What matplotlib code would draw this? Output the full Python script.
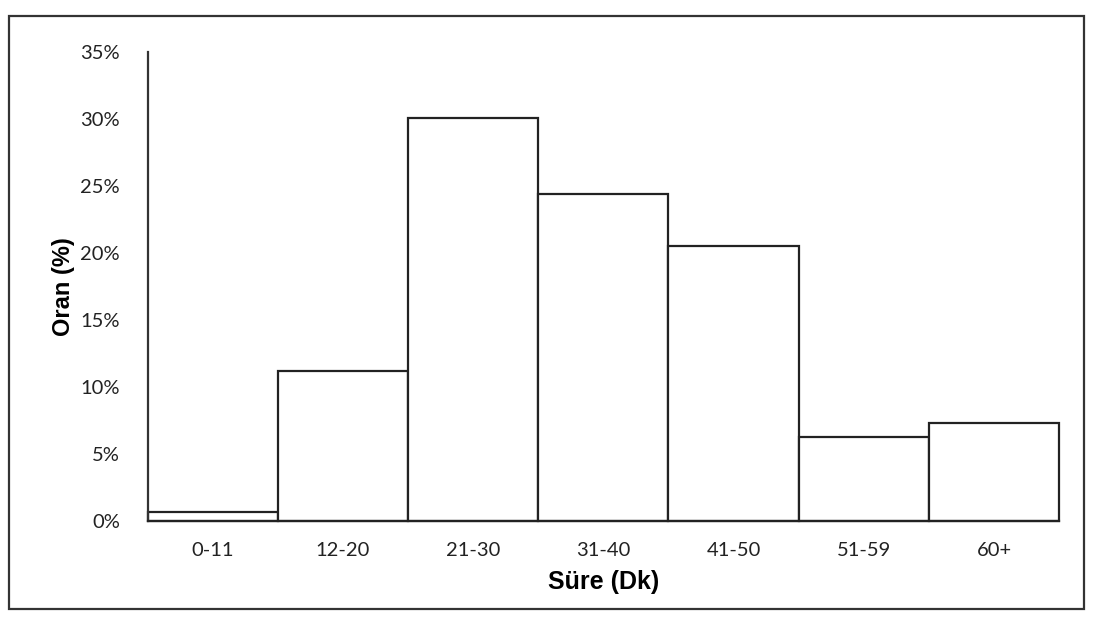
import numpy as np
import matplotlib.pyplot as plt
from matplotlib.patches import Rectangle

# süre aralıkları ve oranlar (%)
categories = ["0-11", "12-20", "21-30", "31-40", "41-50", "51-59", "60+"]
oran = [0.7, 11.2, 30.1, 24.4, 20.5, 6.3, 7.3]
yticks = [0, 5, 10, 15, 20, 25, 30, 35]

plt.rcParams["font.family"] = ["Lato", "DejaVu Sans"]

fig = plt.figure(figsize=(10.93, 6.34), dpi=100)
ax = fig.add_axes([0.135, 0.178, 0.834, 0.74])

x = np.arange(len(categories))
bars = ax.bar(x, oran, width=1.0, color="white", edgecolor="#222222", linewidth=1.6)
for b in bars:
    b.set_clip_on(False)

ax.set_xlim(-0.5, len(categories) - 0.5)
ax.set_ylim(0, 35)
ax.set_yticks(yticks)
ax.set_yticklabels([f"{t}%" for t in yticks], fontsize=14.5, color="#222222")
ax.set_xticks(x)
ax.set_xticklabels(categories, fontsize=14.5, color="#222222")
ax.tick_params(axis="both", length=0)
ax.tick_params(axis="y", pad=20)
ax.tick_params(axis="x", pad=15)

for s in ["top", "right"]:
    ax.spines[s].set_visible(False)
ax.spines["left"].set_linewidth(1.6)
ax.spines["left"].set_color("#333333")
ax.spines["bottom"].set_linewidth(1.6)
ax.spines["bottom"].set_color("#222222")

ax.set_ylabel("Oran (%)", fontsize=17, fontweight="bold", family="Liberation Sans", labelpad=4)
ax.set_xlabel("Süre (Dk)", fontsize=18, fontweight="bold", family="Liberation Sans", labelpad=8)

# dış çerçeve
fig.patches.append(Rectangle((0.008, 0.04), 0.984, 0.935, transform=fig.transFigure,
                             fill=False, edgecolor="#333333", linewidth=1.6))

plt.savefig("out.png", dpi=100)
